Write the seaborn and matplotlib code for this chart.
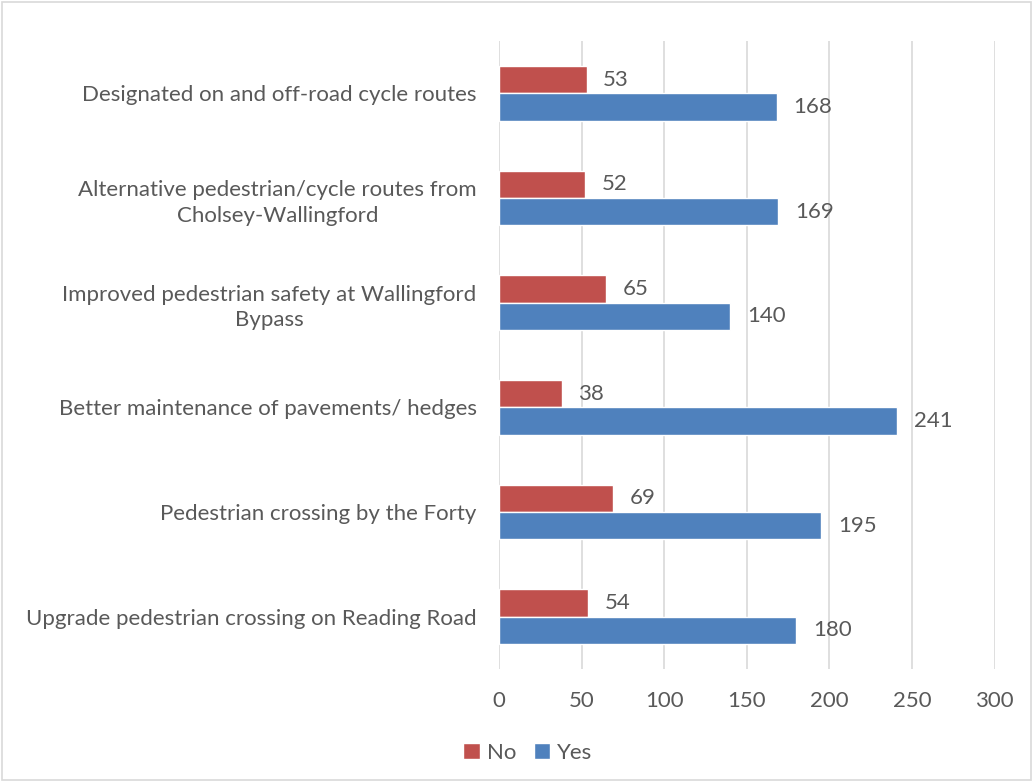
import matplotlib
matplotlib.use("Agg")
import matplotlib.pyplot as plt
import seaborn as sns
import pandas as pd
from matplotlib.patches import Rectangle

categories = [
    "Designated on and off-road cycle routes",
    "Alternative pedestrian/cycle routes from\nCholsey-Wallingford",
    "Improved pedestrian safety at Wallingford\nBypass",
    "Better maintenance of pavements/ hedges",
    "Pedestrian crossing by the Forty",
    "Upgrade pedestrian crossing on Reading Road",
]
no_values = [53, 52, 65, 38, 69, 54]
yes_values = [168, 169, 140, 241, 195, 180]
series = ["No", "Yes"]
colors = {"No": "#C0504D", "Yes": "#4F81BD"}
x_ticks = [0, 50, 100, 150, 200, 250, 300]

df = pd.DataFrame({
    "category": categories * 2,
    "answer": ["No"] * len(categories) + ["Yes"] * len(categories),
    "count": no_values + yes_values,
})

sns.set_theme(style="white")
plt.rcParams["font.family"] = ["Lato", "DejaVu Sans"]
text_color = "#595959"
grid_color = "#D9D9D9"
fs = 16

fig = plt.figure(figsize=(10.33, 7.82), dpi=100)
ax = fig.add_axes([0.483, 0.1445, 0.480, 0.803])

sns.barplot(data=df, y="category", x="count", hue="answer", order=categories,
            hue_order=series, palette=colors, orient="h", width=0.52,
            saturation=1, ax=ax, legend=True)

ax.set_xlim(0, 300)
ax.set_xticks(x_ticks)
ax.set_xlabel("")
ax.set_ylabel("")
ax.grid(axis="x", color=grid_color, linewidth=1.2)
ax.set_axisbelow(True)
for s in ax.spines.values():
    s.set_visible(False)
ax.tick_params(axis="both", length=0, colors=text_color, labelsize=fs)
ax.tick_params(axis="x", pad=16)
ax.tick_params(axis="y", pad=16)
for lbl in ax.get_yticklabels():
    lbl.set_multialignment("center")
    lbl.set_linespacing(1.35)

for cont in ax.containers:
    ax.bar_label(cont, padding=12, color=text_color, fontsize=fs)

handles, labels = ax.get_legend_handles_labels()
ax.get_legend().remove()
fig.legend(handles, labels, loc="center", bbox_to_anchor=(0.511, 0.037),
           ncol=2, frameon=False, fontsize=fs, handlelength=0.75,
           handleheight=0.75, handletextpad=0.3, columnspacing=0.8,
           labelcolor=text_color)

fig.patches.append(Rectangle((0.002, 0.002), 0.996, 0.996, transform=fig.transFigure,
                             fill=False, edgecolor=grid_color, linewidth=1.2))

fig.savefig("out.png", dpi=100)
